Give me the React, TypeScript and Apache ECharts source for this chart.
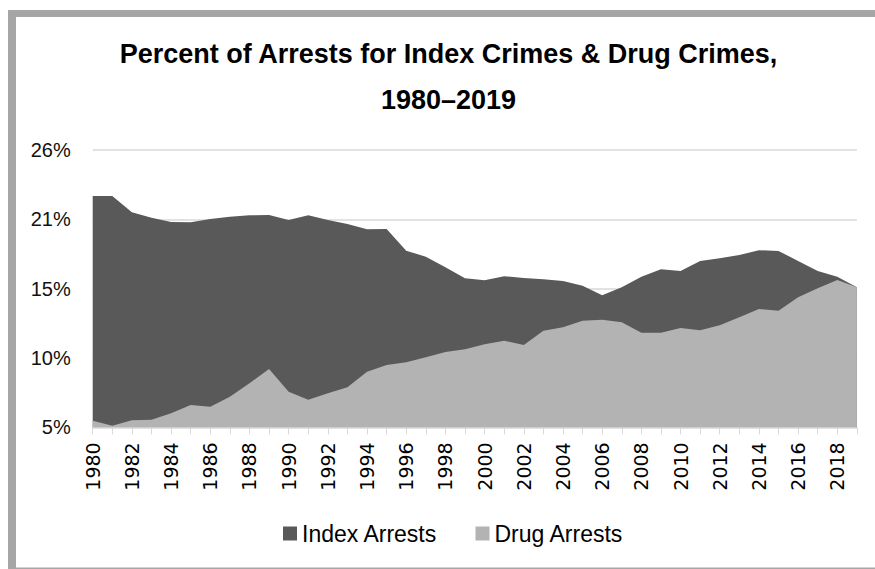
import React, { useEffect, useRef } from "react";
import * as echarts from "echarts";

const years: string[] = [
  "1980","1981","1982","1983","1984","1985","1986","1987","1988","1989",
  "1990","1991","1992","1993","1994","1995","1996","1997","1998","1999",
  "2000","2001","2002","2003","2004","2005","2006","2007","2008","2009",
  "2010","2011","2012","2013","2014","2015","2016","2017","2018","2019",
];

const indexArrests: number[] = [
  22.35, 22.35, 21.13, 20.72, 20.4, 20.38, 20.63, 20.8, 20.9, 20.93,
  20.55, 20.9, 20.55, 20.25, 19.85, 19.88, 18.25, 17.8, 17.0, 16.18,
  16.03, 16.33, 16.2, 16.1, 15.98, 15.62, 14.9, 15.5, 16.3, 16.85,
  16.73, 17.48, 17.68, 17.93, 18.28, 18.23, 17.48, 16.73, 16.3, 15.5,
];

const drugArrests: number[] = [
  5.5, 5.12, 5.53, 5.57, 6.05, 6.67, 6.55, 7.3, 8.3, 9.37,
  7.67, 7.07, 7.55, 8.0, 9.17, 9.67, 9.88, 10.25, 10.65, 10.85,
  11.23, 11.5, 11.17, 12.25, 12.5, 13.0, 13.07, 12.88, 12.1, 12.1,
  12.45, 12.28, 12.65, 13.25, 13.87, 13.75, 14.75, 15.43, 16.05, 15.5,
];

const seriesNames: string[] = ["Index Arrests", "Drug Arrests"];
const titleLines: string[] = ["Percent of Arrests for Index Crimes & Drug Crimes,", "1980\u20132019"];

const Y_MIN = 5;
const Y_MAX = 25.8;
const Y_STEP = 5.2;

export default function App() {
  const ref = useRef<HTMLDivElement>(null);

  useEffect(() => {
    if (!ref.current) return;
    const chart = echarts.init(ref.current, undefined, { renderer: "svg" });
    const frameColor = "#a6a6a6";
    chart.setOption({
      animation: false,
      backgroundColor: "#ffffff",
      graphic: [
        { type: "rect", silent: true, shape: { x: 8, y: 10, width: 8, height: 559 }, style: { fill: frameColor } },
        { type: "rect", silent: true, shape: { x: 8, y: 10, width: 867, height: 7 }, style: { fill: frameColor } },
        { type: "rect", silent: true, shape: { x: 8, y: 567.5, width: 867, height: 1.5 }, style: { fill: frameColor } },
        {
          type: "text",
          x: 448.5,
          y: 54,
          style: {
            text: titleLines[0],
            textAlign: "center",
            textVerticalAlign: "middle",
            font: "bold 27px 'Liberation Sans', Arial, sans-serif",
            fill: "#000",
          },
        },
        {
          type: "text",
          x: 448.5,
          y: 100,
          style: {
            text: titleLines[1],
            textAlign: "center",
            textVerticalAlign: "middle",
            font: "bold 27px 'Liberation Sans', Arial, sans-serif",
            fill: "#000",
          },
        },
      ],
      legend: {
        data: seriesNames,
        left: 278,
        top: 517,
        icon: "rect",
        itemWidth: 14,
        itemHeight: 14,
        itemGap: 38,
        textStyle: { fontFamily: "'Liberation Sans', Arial, sans-serif", fontSize: 23, color: "#000" },
      },
      grid: { left: 92.7, right: 18.1, top: 150, bottom: 141.7, containLabel: false },
      xAxis: {
        type: "category",
        data: years,
        boundaryGap: false,
        axisLine: { show: true, lineStyle: { color: "#d9d9d9", width: 1 } },
        axisTick: { show: true, interval: 0, length: 7, lineStyle: { color: "#d9d9d9" } },
        axisLabel: {
          interval: 1,
          rotate: 90,
          margin: 15,
          fontFamily: "'DejaVu Sans', sans-serif",
          fontSize: 19,
          color: "#000",
        },
        splitLine: { show: false },
      },
      yAxis: {
        type: "value",
        min: Y_MIN,
        max: Y_MAX,
        interval: Y_STEP,
        axisLine: { show: false },
        axisTick: { show: false },
        axisLabel: {
          margin: 22,
          fontFamily: "'Liberation Sans', Arial, sans-serif",
          fontSize: 20,
          color: "#111",
          formatter: (v: number) => Math.round(v) + "%",
        },
        splitLine: { show: true, lineStyle: { color: "#d9d9d9", width: 1.5 } },
      },
      series: [
        {
          name: seriesNames[0],
          type: "line",
          data: indexArrests,
          symbol: "none",
          showSymbol: false,
          itemStyle: { color: "#595959" },
          lineStyle: { width: 0, color: "#595959" },
          areaStyle: { color: "#595959", opacity: 1 },
        },
        {
          name: seriesNames[1],
          type: "line",
          data: drugArrests,
          symbol: "none",
          showSymbol: false,
          itemStyle: { color: "#b3b3b3" },
          lineStyle: { width: 0, color: "#b3b3b3" },
          areaStyle: { color: "#b3b3b3", opacity: 1 },
        },
      ],
    });
    return () => chart.dispose();
  }, []);

  return (
    <div
      ref={ref}
      style={{ position: "fixed", left: 0, top: 0, width: 875, height: 569 }}
    />
  );
}
